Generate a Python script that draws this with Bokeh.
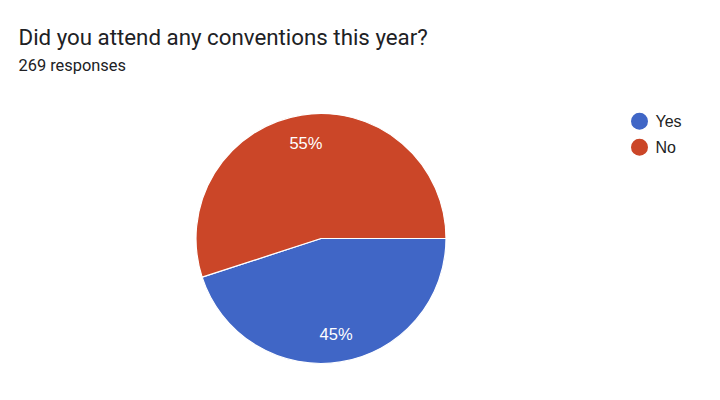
from math import pi, cos, sin

from bokeh.plotting import figure
from bokeh.models import ColumnDataSource, Range1d
from bokeh.core.properties import value
from bokeh.embed import file_html
from bokeh.resources import INLINE

title = "Did you attend any conventions this year?"
subtitle = "269 responses"
answers = ["Yes", "No"]
shares = [45, 55]
colors = ["#4066c6", "#cb4628"]

W, H = 704, 384
HEAD_FONT = value("Roboto")
CHART_FONT = value("Liberation Sans")


def sy(y):
    # screen y (from top of picture) -> data y
    return H - y


# Yes runs clockwise from 3 o'clock, No fills the rest
starts = [-shares[0] / 100 * 2 * pi, 0.0]
ends = [0.0, shares[1] / 100 * 2 * pi]
mids = [(s + e) / 2 for s, e in zip(starts, ends)]

cx, cy, r = 320.5, sy(238), 125
src = ColumnDataSource(dict(
    answer=answers, share=shares, color=colors,
    start=starts, end=ends,
    lx=[cx + 0.77 * r * cos(m) for m in mids],
    ly=[cy + 0.77 * r * sin(m) for m in mids],
    label=["{}%".format(s) for s in shares],
))

p = figure(width=W, height=H, output_backend="svg", toolbar_location=None,
           x_range=Range1d(0, W), y_range=Range1d(0, H), min_border=0)
p.axis.visible = False
p.grid.visible = False
p.outline_line_color = None

p.wedge(x=cx, y=cy, radius=r, start_angle="start", end_angle="end",
        fill_color="color", line_color="white", line_width=1.2, source=src)

p.text(x="lx", y="ly", text="label", source=src, text_color="white",
       text_font=CHART_FONT, text_font_size="16.5px", text_align="center",
       text_baseline="middle")

# title and subtitle
p.text(x=[18], y=[sy(36.7)], text=[title], text_font=HEAD_FONT,
       text_font_size="22.3px", text_color="#202124", text_baseline="alphabetic")
p.text(x=[18], y=[sy(65)], text=[subtitle], text_font=HEAD_FONT,
       text_font_size="16.4px", text_color="#202124", text_baseline="alphabetic")

# legend
leg_y = [sy(120.7), sy(146.7)]
p.scatter(x=[639, 639], y=leg_y, size=17, marker="circle",
          fill_color=colors, line_color=None)
p.text(x=[655, 655], y=leg_y, text=answers, text_font=CHART_FONT,
       text_font_size="16px", text_color="#222222", text_baseline="middle")

open("out.html", "w").write(file_html(p, INLINE))
